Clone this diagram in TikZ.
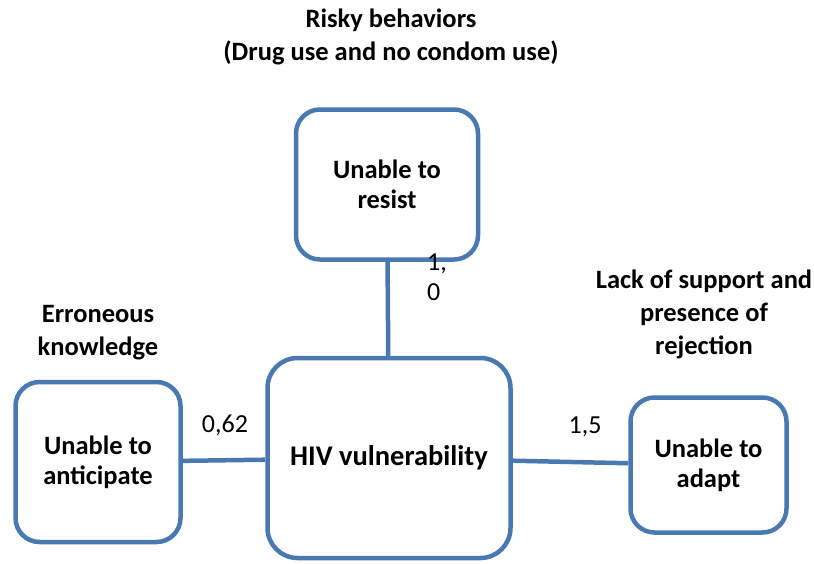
\documentclass[tikz,border=0pt]{standalone}
\usepackage{fontspec}
\setmainfont{Carlito}
\usepackage{xcolor}
\usetikzlibrary{positioning}

\definecolor{boxblue}{RGB}{74,120,176}

\begin{document}
\begin{tikzpicture}[
    x=1pt, y=-1pt,
    factor/.style={rectangle, rounded corners=24pt, draw=boxblue, line width=4.5pt, fill=white, align=center, font=\fontsize{26.5}{30}\selectfont\bfseries, inner sep=0pt},
    heading/.style={align=center, font=\fontsize{26.5}{33}\selectfont\bfseries},
    weight/.style={align=left, font=\fontsize{26}{30}\selectfont},
    link/.style={draw=boxblue, line width=4.5pt}
]
\useasboundingbox (0,0) rectangle (814,563);

\node[factor, minimum width=243pt, minimum height=200pt, rounded corners=30pt, font=\fontsize{28.5}{30}\selectfont\bfseries] (hiv) at (389,458) {HIV vulnerability};
\node[factor, minimum width=182pt, minimum height=150pt] (resist) at (387,184.5) {Unable to\\resist};
\node[factor, minimum width=165pt, minimum height=160pt] (anticipate) at (98,462) {Unable to\\anticipate};
\node[factor, minimum width=156pt, minimum height=135pt] (adapt) at (708.5,465) {Unable to\\adapt};

% headings above the boxes
\node[heading] (risky) at (391,37) {Risky behaviors\\(Drug use and no condom use)};
\node[heading] (knowledge) at (98,333) {Erroneous\\knowledge};
\node[heading] (support) at (704,314) {Lack of support and\\presence of\\rejection};

% weights on the links
\node[weight] (w-resist) at (437,277) {1,\\0};
\node[weight] (w-anticipate) at (225,425) {0,62};
\node[weight] (w-adapt) at (585,427) {1,5};

\draw[link] (resist) -- (hiv);
\draw[link] (anticipate) -- (hiv);
\draw[link] (hiv) -- (adapt);

\end{tikzpicture}
\end{document}
